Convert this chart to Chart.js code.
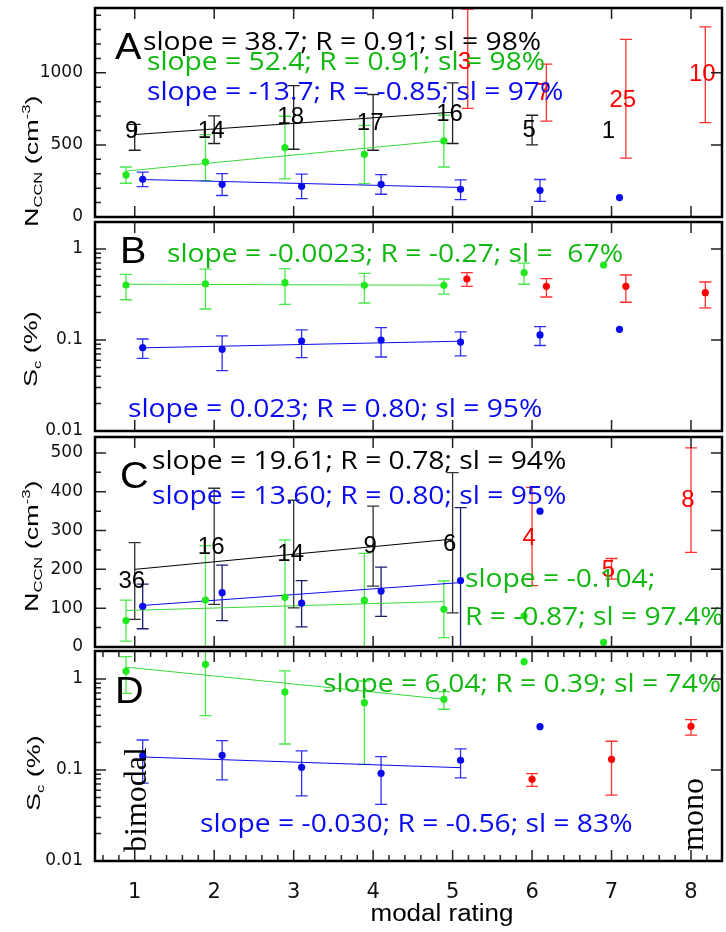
<!DOCTYPE html>
<html>
<head>
<meta charset="utf-8">
<script src="https://cdn.jsdelivr.net/npm/chart.js@4.4.0/dist/chart.umd.min.js"></script>
<style>
html, body { margin: 0; padding: 0; background: #fff; }
#wrap { position: relative; width: 726px; height: 932px; overflow: hidden; }
#wrap canvas { position: absolute; left: 0; top: 0; }
</style>
</head>
<body>
<div id="wrap">
  <canvas id="panelA" width="726" height="932"></canvas>
  <canvas id="panelB" width="726" height="932"></canvas>
  <canvas id="panelC" width="726" height="932"></canvas>
  <canvas id="panelD" width="726" height="932"></canvas>
</div>
<script>
// ---- data ----
const ratings = [1, 2, 3, 4, 5, 6, 7, 8];

// A: N_CCN, first set
const aBlackX = [1, 2, 3, 4, 5, 6, 7];
const aBlackY = [592, 597, 691, 652, 714, 599, 597];
const aBlackLo = [463, 510, 470, 463, 510, 500, null];
const aBlackHi = [643, 701, 912, 850, 931, 706, null];
const aBlackN = [9, 14, 18, 17, 16, 5, 1];
const aBlackFitX = [1, 5];
const aBlackFitY = [572, 727];
const aGreenX = [0.89, 1.89, 2.89, 3.89, 4.89];
const aGreenY = [292, 382, 482, 435, 528];
const aGreenLo = [234, 253, 264, 232, 347];
const aGreenHi = [347, 572, 699, 635, 706];
const aGreenFitX = [0.89, 4.89];
const aGreenFitY = [319, 529];
const aBlueX = [1.1, 2.1, 3.1, 4.1, 5.1, 6.1, 7.1];
const aBlueY = [262, 227, 213, 227, 192, 185, 135];
const aBlueLo = [211, 149, 128, 158, 121, 109, null];
const aBlueHi = [312, 301, 297, 294, 257, 260, null];
const aBlueFitX = [1.1, 5.1];
const aBlueFitY = [260, 205];
const aRedX = [5.19, 6.18, 7.18, 8.18];
const aRedY = [1072, 857, 810, 991];
const aRedLo = [753, 665, 408, 655];
const aRedHi = [1442, 1060, 1232, 1319];
const aRedN = [3, 7, 25, 10];

// B: S_c, first set
const bGreenX = [0.89, 1.89, 2.89, 3.89, 4.89, 5.9, 6.9];
const bGreenY = [0.402, 0.413, 0.426, 0.399, 0.399, 0.549, 0.667];
const bGreenLo = [0.277, 0.219, 0.246, 0.255, 0.32, 0.41, null];
const bGreenHi = [0.527, 0.60, 0.608, 0.541, 0.468, 0.70, null];
const bGreenFitX = [0.89, 4.89];
const bGreenFitY = [0.41, 0.40];
const bBlueX = [1.1, 2.1, 3.1, 4.1, 5.1, 6.1, 7.1];
const bBlueY = [0.0824, 0.0791, 0.0975, 0.1, 0.095, 0.1136, 0.131];
const bBlueLo = [0.0627, 0.046, 0.064, 0.065, 0.067, 0.087, null];
const bBlueHi = [0.1025, 0.111, 0.129, 0.137, 0.123, 0.14, null];
const bBlueFitX = [1.1, 5.1];
const bBlueFitY = [0.082, 0.097];
const bRedX = [5.18, 6.18, 7.18, 8.18];
const bRedY = [0.468, 0.389, 0.389, 0.331];
const bRedLo = [0.389, 0.297, 0.26, 0.225];
const bRedHi = [0.55, 0.472, 0.518, 0.434];

// C: N_CCN, second set
const cBlackX = [1, 2, 3, 4, 5];
const cBlackY = [168, 256, 239, 258, 264];
const cBlackLo = [71, 110, 101, 157, 88];
const cBlackHi = [269, 409, 378, 363, 449];
const cBlackN = [36, 16, 14, 9, 6];
const cBlackFitX = [1, 5];
const cBlackFitY = [200, 278];
const cBlueX = [1.1, 2.1, 3.1, 4.1, 5.1, 6.1];
const cBlueY = [105, 140, 113, 144, 171, 350];
const cBlueLo = [47, 68, 52, 79, -30, null];
const cBlueHi = [162, 211, 171, 206, 359, null];
const cBlueFitX = [1.1, 5.1];
const cBlueFitY = [107, 166];
const cGreenX = [0.89, 1.89, 2.89, 3.89, 4.89, 5.9, 6.9];
const cGreenY = [68, 121, 128, 120, 97, 80, 12];
const cGreenLo = [15, -30, -30, -30, 24, null, null];
const cGreenHi = [121, 261, 276, 241, 170, null, null];
const cGreenFitX = [0.89, 4.89];
const cGreenFitY = [94, 117];
const cRedX = [6, 7, 8];
const cRedY = [280, 198, 377];
const cRedLo = [158, 175, 244];
const cRedHi = [411, 228, 513];
const cRedN = [4, 5, 8];

// D: S_c, second set
const dGreenX = [0.89, 1.89, 2.89, 3.89, 4.89, 5.9];
const dGreenY = [1.22, 1.45, 0.72, 0.549, 0.598, 1.55];
const dGreenLo = [0.696, 0.395, 0.193, 0.115, 0.465, null];
const dGreenHi = [1.76, 3, 1.23, 0.95, 0.725, null];
const dGreenFitX = [0.89, 4.89];
const dGreenFitY = [1.35, 0.60];
const dBlueX = [1.1, 2.1, 3.1, 4.1, 5.1, 6.1];
const dBlueY = [0.1436, 0.145, 0.107, 0.092, 0.128, 0.299];
const dBlueLo = [0.0716, 0.078, 0.052, 0.042, 0.082, null];
const dBlueHi = [0.2135, 0.21, 0.162, 0.14, 0.171, null];
const dBlueFitX = [1.1, 5.1];
const dBlueFitY = [0.139, 0.106];
const dRedX = [6, 7, 8];
const dRedY = [0.079, 0.131, 0.302];
const dRedLo = [0.066, 0.053, 0.242];
const dRedHi = [0.091, 0.207, 0.357];

const GREEN_PT = '#1fe81f', GREEN_LINE = '#3ad83a', GREEN_TXT = '#10b810', GREEN_ERR = '#4ae84a';
const BLUE = '#0a0aee', BLUE_ERR = '#3030ee', NAVY_ERR = '#1c1c70';
const RED = '#ff0000', RED_ERR = '#ff3030';
const SLOPE_FONT = '25px "Open Sans"';

const pts = (xs, ys) => xs.map((x, i) => ({ x, y: ys[i] }));

function points(xs, ys, color, lo, hi, errColor) {
  return {
    data: pts(xs, ys), pointRadius: 3.6, pointBackgroundColor: color,
    pointBorderWidth: 0, showLine: false, order: 1,
    errLo: lo, errHi: hi, errColor: errColor
  };
}
function fitLine(xs, ys, color) {
  return { data: pts(xs, ys), showLine: true, pointRadius: 0, borderColor: color, borderWidth: 1, order: 2 };
}
function counted(xs, ys, n, color, lo, hi, errColor) {
  return {
    data: pts(xs, ys), pointRadius: 0, showLine: false, order: 1,
    counts: n, countColor: color, errLo: lo, errHi: hi, errColor: errColor
  };
}

function text(ctx, t) {
  ctx.save();
  ctx.translate(t.x, t.y);
  if (t.rot) ctx.rotate(t.rot);
  ctx.scale(t.sx || 1, 1);
  ctx.font = t.font;
  ctx.fillStyle = t.color || '#000';
  ctx.textAlign = t.align || 'left';
  ctx.textBaseline = t.baseline || 'middle';
  ctx.fillText(t.text, 0, 0);
  ctx.restore();
}

// rotated axis title built from runs (sub/superscripts)
function titleRuns(ctx, x, y, runs, sx) {
  ctx.save();
  ctx.translate(x, y);
  ctx.rotate(-Math.PI / 2);
  ctx.scale(sx, 1);
  ctx.fillStyle = '#000';
  ctx.textBaseline = 'alphabetic';
  let cx = 0;
  runs.forEach(r => {
    ctx.font = r.size + 'px "Liberation Sans"';
    ctx.fillText(r.t, cx, r.dy || 0);
    cx += ctx.measureText(r.t).width;
  });
  ctx.restore();
}

const panelDecor = {
  id: 'panelDecor',
  beforeDatasetsDraw(chart) {
    const ctx = chart.ctx, a = chart.chartArea;
    const xs = chart.scales.x, ys = chart.scales.y;
    ctx.save();
    ctx.beginPath();
    ctx.rect(a.left, a.top, a.right - a.left, a.bottom - a.top);
    ctx.clip();
    chart.data.datasets.forEach(ds => {
      if (!ds.errLo) return;
      ctx.strokeStyle = ds.errColor;
      ctx.lineWidth = 1.3;
      ds.data.forEach((p, i) => {
        const lo = ds.errLo[i], hi = ds.errHi[i];
        if (lo == null || hi == null) return;
        const px = xs.getPixelForValue(p.x);
        const y1 = ys.getPixelForValue(lo), y2 = ys.getPixelForValue(hi);
        ctx.beginPath();
        ctx.moveTo(px, y1); ctx.lineTo(px, y2);
        ctx.moveTo(px - 6, y1); ctx.lineTo(px + 6, y1);
        ctx.moveTo(px - 6, y2); ctx.lineTo(px + 6, y2);
        ctx.stroke();
      });
    });
    ctx.restore();
  },
  afterDatasetsDraw(chart, args, opts) {
    const ctx = chart.ctx, a = chart.chartArea;
    const xs = chart.scales.x, ys = chart.scales.y;

    // count labels sit on the mean of their group
    chart.data.datasets.forEach((ds, di) => {
      if (!ds.counts) return;
      chart.getDatasetMeta(di).data.forEach((el, i) => {
        text(ctx, { text: String(ds.counts[i]), x: el.x - 3, y: el.y, font: '24px "Liberation Sans"', color: ds.countColor, align: 'center' });
      });
    });

    (opts.texts || []).forEach(t => text(ctx, t));

    // frame and inward ticks
    ctx.save();
    ctx.strokeStyle = '#222';
    ctx.lineWidth = 1.5;
    ctx.beginPath();
    const seg = (x1, y1, x2, y2) => { ctx.moveTo(x1, y1); ctx.lineTo(x2, y2); };
    ratings.forEach(v => {
      const px = xs.getPixelForValue(v);
      seg(px, a.top, px, a.top + 11);
      seg(px, a.bottom, px, a.bottom - 11);
    });
    (opts.xMinor || []).forEach(v => {
      const px = xs.getPixelForValue(v);
      seg(px, a.top, px, a.top + 6);
      seg(px, a.bottom, px, a.bottom - 6);
    });
    ys.ticks.forEach(t => {
      const py = ys.getPixelForValue(t.value);
      seg(a.left, py, a.left + 11, py);
      seg(a.right, py, a.right - 11, py);
    });
    (opts.yMinor || []).forEach(v => {
      const py = ys.getPixelForValue(v);
      seg(a.left, py, a.left + 6, py);
    });
    ctx.stroke();
    ctx.strokeStyle = '#000';
    ctx.lineWidth = 2.5;
    ctx.strokeRect(a.left, a.top, a.right - a.left, a.bottom - a.top);
    ctx.restore();

    if (opts.title) titleRuns(ctx, opts.title.x, opts.title.y, opts.title.runs, opts.title.sx);
  }
};

function makePanel(id, p) {
  const yScale = {
    type: p.yType, min: p.yMin, max: p.yMax,
    grid: { display: false, drawTicks: false },
    border: { display: false },
    ticks: {
      padding: 12, color: '#111',
      font: { family: 'DejaVu Sans', size: 17, lineHeight: 1 },
      callback: v => String(v)
    },
    afterBuildTicks: s => { s.ticks = p.yTicks.map(v => ({ value: v })); },
    afterFit: s => { s.width = 95; s.paddingTop = 0; s.paddingBottom = 0; }
  };
  const xScale = {
    type: 'linear', min: 0.5, max: 8.39, display: !!p.showX,
    grid: { display: false, drawTicks: false },
    border: { display: false },
    ticks: {
      padding: 19, color: '#111',
      font: { family: 'DejaVu Sans', size: 21 },
      callback: v => String(v)
    },
    afterBuildTicks: s => { s.ticks = ratings.map(v => ({ value: v })); },
    afterFit: s => { if (p.showX) s.height = 71; s.paddingLeft = 0; s.paddingRight = 0; }
  };
  return new Chart(document.getElementById(id), {
    type: 'scatter',
    data: { datasets: p.datasets },
    options: {
      responsive: false, animation: false, events: [],
      layout: { padding: { top: p.top, bottom: p.bottom, left: 0, right: 0 } },
      plugins: { legend: { display: false }, tooltip: { enabled: false }, panelDecor: p.decor },
      scales: { x: xScale, y: yScale }
    },
    plugins: [panelDecor]
  });
}

const logMinor = [0.02, 0.03, 0.04, 0.05, 0.06, 0.07, 0.08, 0.09, 0.2, 0.3, 0.4, 0.5, 0.6, 0.7, 0.8, 0.9];
const xMinorD = [];
for (let v = 0.6; v < 8.39; v += 0.2) if (Math.abs(v - Math.round(v)) > 0.05) xMinorD.push(+v.toFixed(1));

const letter = (s, x, y) => ({ text: s, x, y, font: '36px "Liberation Sans"', sx: 1.1 });
const slope = (s, x, y, color) => ({ text: s, x, y, font: SLOPE_FONT, sx: 1.13, color });
const nTitle = (x, y) => ({ x, y, sx: 1.5, runs: [
  { t: 'N', size: 18 }, { t: 'CCN', size: 11, dy: 4 }, { t: ' (cm', size: 18 }, { t: '-3', size: 11, dy: -8 }, { t: ')', size: 18 }
] });
const sTitle = (x, y) => ({ x, y, sx: 1.5, runs: [
  { t: 'S', size: 18 }, { t: 'c', size: 11, dy: 4 }, { t: ' (%)', size: 18 }
] });

makePanel('panelA', {
  top: 8, bottom: 715, yType: 'linear', yMin: 0, yMax: 1450, yTicks: [0, 500, 1000],
  datasets: [
    counted(aRedX, aRedY, aRedN, RED, aRedLo, aRedHi, RED_ERR),
    counted(aBlackX, aBlackY, aBlackN, '#000', aBlackLo, aBlackHi, '#222'),
    points(aBlueX, aBlueY, BLUE, aBlueLo, aBlueHi, BLUE_ERR),
    points(aGreenX, aGreenY, GREEN_PT, aGreenLo, aGreenHi, GREEN_ERR),
    fitLine(aBlackFitX, aBlackFitY, '#000'),
    fitLine(aGreenFitX, aGreenFitY, GREEN_LINE),
    fitLine(aBlueFitX, aBlueFitY, BLUE)
  ],
  decor: {
    yMinor: [100, 200, 300, 400, 600, 700, 800, 900, 1100, 1200, 1300, 1400],
    title: nTitle(37.5, 227),
    texts: [
      letter('A', 115, 49),
      slope('slope = 38.7; R = 0.91; sl = 98%', 143, 43, '#000'),
      slope('slope = 52.4; R = 0.91; sl = 98%', 147, 63, GREEN_TXT),
      slope('slope = -13.7; R = -0.85; sl = 97%', 147, 93, BLUE)
    ]
  }
});

makePanel('panelB', {
  top: 222, bottom: 501, yType: 'logarithmic', yMin: 0.01, yMax: 1.98, yTicks: [0.01, 0.1, 1],
  datasets: [
    points(bRedX, bRedY, RED, bRedLo, bRedHi, RED_ERR),
    points(bBlueX, bBlueY, BLUE, bBlueLo, bBlueHi, BLUE_ERR),
    points(bGreenX, bGreenY, GREEN_PT, bGreenLo, bGreenHi, GREEN_ERR),
    fitLine(bGreenFitX, bGreenFitY, GREEN_LINE),
    fitLine(bBlueFitX, bBlueFitY, BLUE)
  ],
  decor: {
    yMinor: logMinor,
    title: sTitle(36.5, 387),
    texts: [
      letter('B', 120, 253),
      slope('slope = -0.0023; R = -0.27; sl =  67%', 167, 255, GREEN_TXT),
      slope('slope = 0.023; R = 0.80; sl = 95%', 128, 410, BLUE)
    ]
  }
});

makePanel('panelC', {
  top: 437, bottom: 285, yType: 'linear', yMin: 0, yMax: 541, yTicks: [0, 100, 200, 300, 400, 500],
  datasets: [
    counted(cRedX, cRedY, cRedN, RED, cRedLo, cRedHi, RED_ERR),
    points(cBlueX, cBlueY, BLUE, cBlueLo, cBlueHi, NAVY_ERR),
    counted(cBlackX, cBlackY, cBlackN, '#000', cBlackLo, cBlackHi, '#333'),
    points(cGreenX, cGreenY, GREEN_PT, cGreenLo, cGreenHi, GREEN_ERR),
    fitLine(cBlackFitX, cBlackFitY, '#000'),
    fitLine(cBlueFitX, cBlueFitY, BLUE),
    fitLine(cGreenFitX, cGreenFitY, GREEN_LINE)
  ],
  decor: {
    yMinor: [50, 150, 250, 350, 450],
    title: nTitle(37.5, 612),
    texts: [
      letter('C', 120, 478),
      slope('slope = 19.61; R = 0.78; sl = 94%', 152, 462, '#000'),
      slope('slope = 13.60; R = 0.80; sl = 95%', 152, 497, BLUE),
      slope('slope = -0.104;', 465, 580, GREEN_TXT),
      slope('R = -0.87; sl = 97.4%', 465, 618, GREEN_TXT)
    ]
  }
});

makePanel('panelD', {
  top: 651, bottom: 0, showX: true, yType: 'logarithmic', yMin: 0.01, yMax: 2.03, yTicks: [0.01, 0.1, 1],
  datasets: [
    points(dRedX, dRedY, RED, dRedLo, dRedHi, RED_ERR),
    points(dBlueX, dBlueY, BLUE, dBlueLo, dBlueHi, BLUE_ERR),
    points(dGreenX, dGreenY, GREEN_PT, dGreenLo, dGreenHi, GREEN_ERR),
    fitLine(dGreenFitX, dGreenFitY, GREEN_LINE),
    fitLine(dBlueFitX, dBlueFitY, BLUE)
  ],
  decor: {
    yMinor: logMinor,
    xMinor: xMinorD,
    title: sTitle(40, 811),
    texts: [
      letter('D', 115, 693),
      slope('slope = 6.04; R = 0.39; sl = 74%', 323, 685, GREEN_TXT),
      slope('slope = -0.030; R = -0.56; sl = 83%', 200, 825, BLUE),
      { text: 'bimodal', x: 146, y: 852, rot: -Math.PI / 2, font: '32px "Liberation Serif"', baseline: 'alphabetic' },
      { text: 'mono', x: 703, y: 851, rot: -Math.PI / 2, font: '32px "Liberation Serif"', baseline: 'alphabetic' },
      { text: 'modal rating', x: 442, y: 915, font: '23px "Liberation Sans"', sx: 1.13, align: 'center' }
    ]
  }
});
</script>
</body>
</html>
